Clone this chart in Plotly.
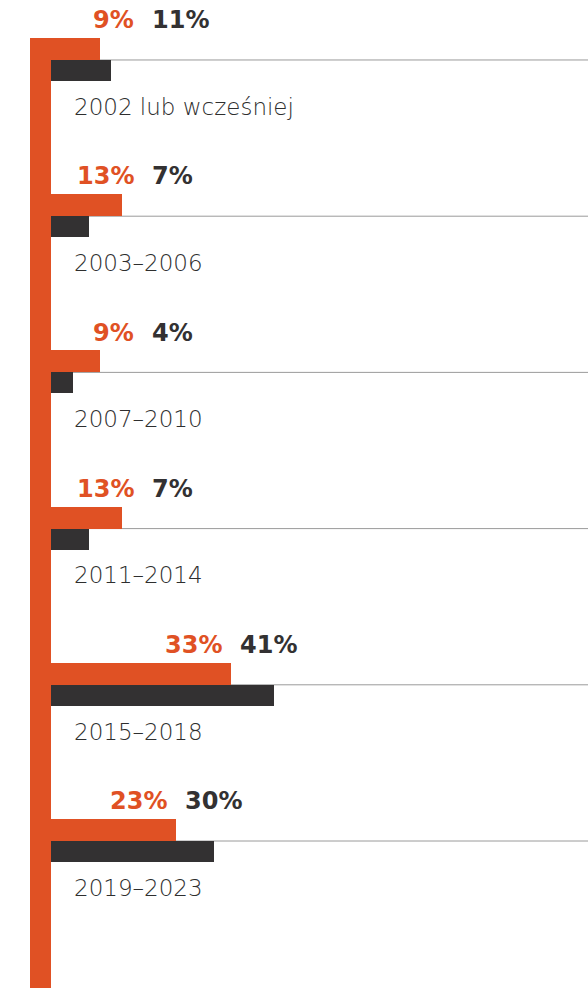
import plotly.graph_objects as go

categories = ['2002 lub wcześniej', '2003–2006', '2007–2010', '2011–2014', '2015–2018', '2019–2023']
orange_vals = [9, 13, 9, 13, 33, 23]
dark_vals = [11, 7, 4, 7, 41, 30]

ORANGE = '#E05124'
DARK = '#333132'
GRAY = '#9a9a9a'
FONT = 'DejaVu Sans'

n = len(categories)
idx = list(range(n))

fig = go.Figure()
fig.add_trace(go.Bar(
    y=[i - 0.0704 for i in idx], x=orange_vals, orientation='h',
    width=0.1408, marker=dict(color=ORANGE, line=dict(width=0)),
    hoverinfo='skip', showlegend=False))
fig.add_trace(go.Bar(
    y=[i + 0.0672 for i in idx], x=dark_vals, orientation='h',
    width=0.1344, marker=dict(color=DARK, line=dict(width=0)),
    hoverinfo='skip', showlegend=False))

shapes = []
# thin gray baseline under each group
for i in idx:
    shapes.append(dict(type='line', xref='x', yref='y', x0=0, x1=100, y0=i, y1=i,
                       line=dict(color=GRAY, width=1), layer='below'))
# the tall orange spine on the left
shapes.append(dict(type='rect', xref='x', yref='y', x0=-3.86, x1=0,
                   y0=-0.1408, y1=6.2, fillcolor=ORANGE, line=dict(width=0), layer='above'))

annotations = []
for i, (cat, o, d) in enumerate(zip(categories, orange_vals, dark_vals)):
    c = max(o, 17)
    annotations.append(dict(x=c, y=i - 0.255, xref='x', yref='y', text=f'<b>{o}%</b>',
                            xanchor='right', yanchor='middle', xshift=-7, showarrow=False,
                            font=dict(family=FONT, size=24, color=ORANGE)))
    annotations.append(dict(x=c, y=i - 0.255, xref='x', yref='y', text=f'<b>{d}%</b>',
                            xanchor='left', yanchor='middle', xshift=7, showarrow=False,
                            font=dict(family=FONT, size=24, color=DARK)))
    annotations.append(dict(x=3.85, y=i + 0.30, xref='x', yref='y', text=cat,
                            xanchor='left', yanchor='middle', showarrow=False,
                            font=dict(family=FONT, size=23, color='#2e2e2e', weight=200)))

fig.update_layout(
    width=588, height=988,
    margin=dict(l=0, r=0, t=0, b=0),
    paper_bgcolor='white', plot_bgcolor='white',
    barmode='overlay', bargap=0,
    shapes=shapes, annotations=annotations,
    xaxis=dict(range=[-9.375, 98.71], visible=False, fixedrange=True),
    yaxis=dict(range=[5.941, -0.384], visible=False, fixedrange=True),
)

fig.write_html('out.html', config={'displayModeBar': False},
               post_script="document.body.style.margin='0';document.body.style.overflow='hidden';")
